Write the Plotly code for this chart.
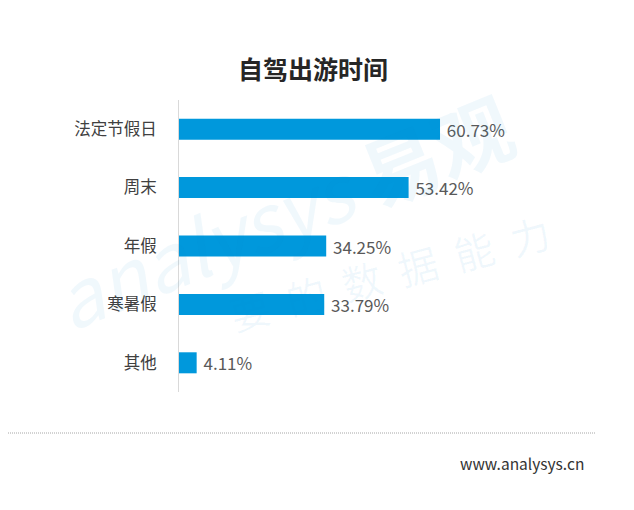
import plotly.graph_objects as go

# dados do grafico
categorias = ["法定节假日", "周末", "年假", "寒暑假", "其他"]
valores = [60.73, 53.42, 34.25, 33.79, 4.11]
titulo = "自驾出游时间"
rodape = "www.analysys.cn"

# a pagina tem margem de ~8px no body, compensa aqui
OFF = 8
W, H = 634, 510
L, R, T, B = 179 - OFF, 34 + OFF, 100 - OFF, 118 + OFF
pw, ph = W - L - R, H - T - B

def px(x):
    return (x - OFF - L) / pw

def py_(y):
    return (H - B - (y - OFF)) / ph

fonte = "Noto Sans CJK SC"

fig = go.Figure()
fig.add_trace(go.Bar(
    x=valores,
    y=categorias,
    orientation="h",
    marker=dict(color="#0098dc", line=dict(width=0)),
    width=0.36,
    text=[" %.2f%%" % v for v in valores],
    textposition="outside",
    constraintext="none",
    textfont=dict(size=17, color="#595959", family=fonte),
    cliponaxis=False,
    hoverinfo="skip",
))

# marca d'agua
fig.add_annotation(xref="paper", yref="paper", x=px(282), y=py_(210),
                   xanchor="center", yanchor="middle",
                   text="<i>analysys</i> <b>易观</b>", showarrow=False, textangle=-22,
                   font=dict(size=78, color="rgba(0,140,210,0.06)", family=fonte))
fig.add_annotation(xref="paper", yref="paper", x=px(362), y=py_(280),
                   xanchor="center", yanchor="middle",
                   text="<span style='color:rgba(240,120,40,0.12)'>你</span>  要  的  数  据  能  力",
                   showarrow=False, textangle=-15,
                   font=dict(size=40, color="rgba(0,140,210,0.06)", family=fonte))

# linha pontilhada
fig.add_shape(type="line", xref="paper", yref="paper",
              x0=px(0), x1=px(596), y0=py_(433), y1=py_(433),
              line=dict(color="#a6a6a6", width=1, dash="1px,1px"))

fig.add_annotation(xref="paper", yref="paper", x=px(586), y=py_(463),
                   xanchor="right", yanchor="middle", text=rodape, showarrow=False,
                   font=dict(size=15.5, color="#333333", family=fonte))

fig.update_layout(
    width=W, height=H,
    margin=dict(l=L, r=R, t=T, b=B),
    paper_bgcolor="white", plot_bgcolor="white",
    showlegend=False,
    title=dict(text="<b>" + titulo + "</b>", x=(313 - OFF) / W, xanchor="center",
               y=1 - (70 - OFF) / H, yanchor="middle",
               font=dict(size=25, color="#262626", family=fonte)),
    xaxis=dict(range=[0, pw / 4.298], visible=False, fixedrange=True),
    yaxis=dict(autorange="reversed", showline=True, linecolor="#d9d9d9", linewidth=1,
               showgrid=False, zeroline=False, ticks="", ticklabelstandoff=18,
               tickfont=dict(size=16.5, color="#404040", family=fonte)),
)

fig.write_html("out.html")
